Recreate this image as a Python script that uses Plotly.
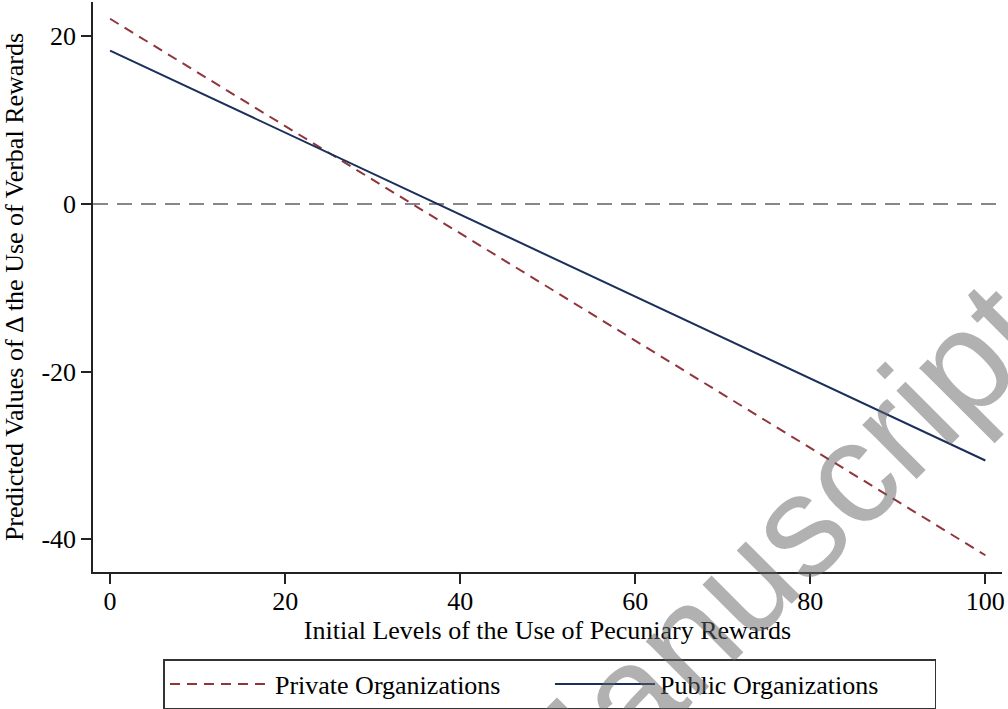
import plotly.graph_objects as go

# Data
x_levels = [0, 100]
private_vals = [22.1, -41.9]
public_vals = [18.3, -30.6]
series_names = ["Private Organizations", "Public Organizations"]

x_ticks = [0, 20, 40, 60, 80, 100]
x_ticktext = ["0", "20", "40", "60", "80", "100"]
y_ticks = [20, 0, -20, -40]
y_ticktext = ["20", "0", "-20", "-40"]
ref_y = 0

FONT = "Liberation Serif, Times New Roman, serif"
fs = 26

fig = go.Figure()
fig.add_trace(go.Scatter(
    x=x_levels, y=private_vals, mode="lines", name=series_names[0],
    line=dict(color="#90353b", width=2, dash="10px,7px"),
))
fig.add_trace(go.Scatter(
    x=x_levels, y=public_vals, mode="lines", name=series_names[1],
    line=dict(color="#1a2f5a", width=2),
))

fig.add_hline(y=ref_y, line=dict(color="#111111", width=1.1, dash="15px,9px"), layer="below")

# watermark present on the reference image
fig.add_annotation(
    text="Manuscript", x=74.9, y=-42.3, xref="x", yref="y",
    showarrow=False, textangle=-45,
    font=dict(family="Liberation Sans, Arial, sans-serif", size=145,
              color="rgba(100,100,100,0.5)"),
    xanchor="center", yanchor="middle",
)

fig.update_layout(
    width=1008, height=709,
    margin=dict(l=93, r=6, t=2, b=137, autoexpand=False),
    paper_bgcolor="white", plot_bgcolor="white",
    font=dict(family=FONT, size=fs, color="black"),
    showlegend=True,
    legend=dict(
        orientation="h", xref="container", yref="container",
        x=0.5456, xanchor="center", y=0.0705, yanchor="top",
        bgcolor="white", bordercolor="#333333", borderwidth=1.5,
        font=dict(family=FONT, size=fs, color="black"),
        itemwidth=100, entrywidth=270,
    ),
    xaxis=dict(
        range=[-1.95, 101.9], tickmode="array", tickvals=x_ticks, ticktext=x_ticktext,
        showgrid=False, zeroline=False, showline=True, linecolor="#222222", linewidth=1.5,
        ticks="outside", ticklen=10, tickwidth=1.5, tickcolor="#222222", automargin=False,
        ticklabelstandoff=-5,
        title=dict(text="Initial Levels of the Use of Pecuniary Rewards", standoff=0,
                   font=dict(size=fs)),
        tickfont=dict(size=fs),
    ),
    yaxis=dict(
        range=[-43.9, 24.1], tickmode="array", tickvals=y_ticks, ticktext=y_ticktext,
        showgrid=False, zeroline=False, showline=True, linecolor="#222222", linewidth=1.5,
        ticks="outside", ticklen=10, tickwidth=1.5, tickcolor="#222222", automargin=False,
        title=dict(text="Predicted Values of \u0394 the Use of Verbal Rewards", standoff=10,
                   font=dict(size=fs)),
        tickfont=dict(size=fs),
    ),
)

fig.write_html("out.html", config={"displayModeBar": False},
               post_script="document.body.style.margin='0';")
